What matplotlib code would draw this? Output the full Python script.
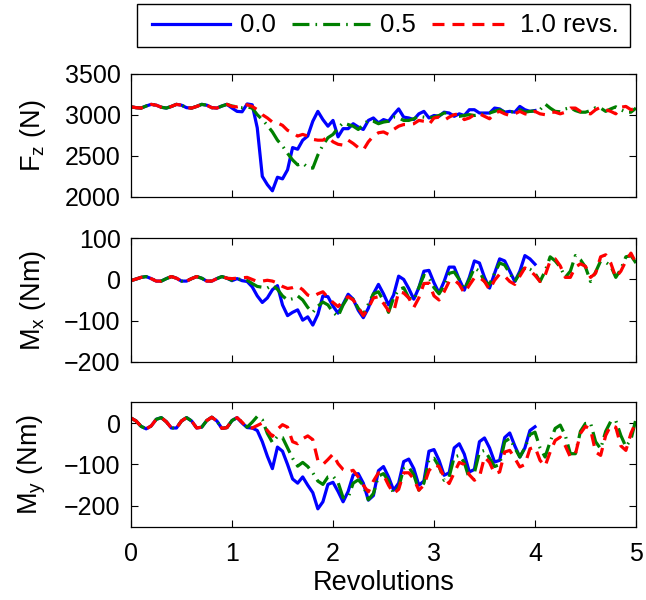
import numpy as np
import matplotlib
matplotlib.use('Agg')
import matplotlib.pyplot as plt
from matplotlib.patches import Rectangle

plt.rcParams['font.family'] = ['Liberation Sans', 'DejaVu Sans']
plt.rcParams['font.size'] = 18
plt.rcParams['mathtext.default'] = 'regular'
plt.rcParams['axes.linewidth'] = 0.9

# revolutions, sampled every 0.05
rev = np.round(np.arange(0, 5.001, 0.05), 2)
rev_blue = rev[rev <= 4.0]

labels = ['0.0', '0.5', '1.0 revs.']

# ---- F_z (N) ----
fz_start = [3095, 3085, 3080, 3105, 3125, 3115, 3090, 3080, 3100, 3125,
            3115, 3085, 3080, 3100, 3125, 3115, 3085, 3080, 3105, 3125]
fz_00 = [3080, 3040, 3035, 3130, 3120, 2840, 2250, 2150, 2075, 2240,
         2220, 2330, 2600, 2580, 2690, 2740, 2920, 3040, 2940, 2860,
         2930, 2730, 2830, 2830, 2890, 2850, 2820, 2930, 2960, 2900,
         2940, 2920, 3000, 3070, 2970, 2960, 2940, 3010, 3040, 2960,
         2990, 2980, 3030, 3020, 2980, 3010, 2990, 3060, 3060, 3020,
         3020, 3020, 3080, 3070, 3030, 3040, 3030, 3100, 3060, 3040,
         3050]
fz_05 = [3105, 3095, 3085, 3095, 3080, 3000, 2940, 2870, 2790, 2690,
         2620, 2530, 2450, 2390, 2410, 2360, 2350, 2510, 2630, 2720,
         2760, 2840, 2900, 2880, 2860, 2820, 2880, 2930, 2920, 2890,
         2910, 2920, 2970, 2960, 2930, 2930, 2950, 2980, 2970, 2960,
         2970, 2990, 3020, 3020, 2980, 2980, 2990, 3000, 2990, 3000,
         3010, 3020, 3040, 3060, 3030, 3030, 3040, 3060, 3030, 3040,
         3045, 3060, 3130, 3080, 3040, 3035, 3070, 3085, 3050, 3030,
         3030, 3050, 3085, 3080, 3040, 3070, 3095, 3060, 3030, 3030,
         3080]
fz_10 = [3100, 3095, 3110, 3120, 3100, 3060, 3000, 2960, 2910, 2900,
         2870, 2810, 2780, 2740, 2760, 2740, 2700, 2690, 2690, 2730,
         2670, 2640, 2630, 2690, 2650, 2600, 2570, 2670, 2740, 2780,
         2790, 2760, 2820, 2860, 2880, 2880, 2890, 2930, 2920, 2880,
         2960, 2970, 2930, 2970, 3000, 3010, 2940, 2960, 3000, 3010,
         2980, 2950, 3020, 3040, 3010, 2990, 3010, 3040, 3010, 3000,
         3040, 3010, 3000, 3030, 3030, 3010, 3030, 3080, 3080, 3040,
         3020, 3010, 3060, 3090, 3060, 3040, 3010, 3090, 3100, 3060,
         3080]

# ---- M_x (Nm) ----
mx_start = [-3, 1, 5, 7, 2, -4, -4, 2, 7, 3,
            -4, -4, 2, 7, 3, -4, -4, 2, 7, 3]
mx_00 = [-3, 2, -3, -5, -18, -40, -56, -45, -25, -15,
         -62, -88, -80, -74, -99, -91, -111, -85, -40, -42,
         -65, -82, -60, -36, -48, -75, -93, -70, -35, -12,
         -35, -62, -38, 8, 0, -22, -48, -20, 20, 22,
         -8, -33, -5, 30, 30, 0, -26, 5, 45, 40,
         5, -21, 15, 50, 45, 20, -5, 20, 58, 50,
         37]
mx_05 = [-2, 0, 1, -2, -10, -17, -19, -21, -14, -24,
         -40, -50, -47, -40, -50, -68, -80, -65, -55, -62,
         -80, -90, -62, -42, -48, -70, -86, -60, -35, -30,
         -52, -80, -45, -25, -20, -45, -50, -20, 10, 5,
         -20, -35, -15, 15, 18, 0, -24, 0, 28, 20,
         -5, -12, 15, 40, 35, 15, -5, 15, 30, 25,
         15, -5, 20, 55, 45, 30, 5, 20, 58, 48,
         30, -5, 18, 45, 42, 33, 5, 25, 55, 58,
         40]
mx_10 = [2, 3, 4, 5, 0, -5, -4, -2, -4, -9,
         -17, -22, -20, -16, -25, -38, -42, -35, -30, -44,
         -56, -66, -52, -42, -50, -68, -88, -70, -45, -42,
         -58, -76, -80, -30, -33, -45, -68, -45, -10, -9,
         -40, -50, -30, -5, -1, -12, -33, -14, 4, 5,
         -5, -25, -2, 13, 8, -5, -12, 8, 28, 22,
         10, -5, 10, 45, 50, 33, 5, 5, 30, 38,
         32, 5, 15, 55, 60, 40, 5, 20, 45, 64,
         40]

# ---- M_y (Nm) ----
my_start = [12, 5, -8, -14, -7, 9, 13, 3, -12, -12,
            5, 13, 5, -12, -10, 6, 14, 5, -13, -11]
my_00 = [6, 13, 0, -11, -12, -18, -45, -80, -110, -58,
         -68, -100, -135, -145, -130, -150, -168, -207, -190, -148,
         -143, -165, -190, -165, -125, -122, -145, -186, -175, -115,
         -105, -130, -162, -145, -93, -87, -110, -150, -140, -68,
         -64, -90, -126, -120, -60, -50, -75, -118, -112, -45,
         -36, -60, -94, -90, -35, -24, -55, -82, -60, -18,
         -9]
my_05 = [6, 13, 2, -10, 2, 16, 8, -25, -47, -32,
         -35, -60, -85, -104, -95, -105, -120, -140, -148, -130,
         -128, -143, -180, -180, -145, -137, -150, -185, -170, -128,
         -122, -140, -170, -155, -110, -106, -125, -162, -145, -88,
         -85, -105, -138, -130, -82, -78, -95, -135, -120, -70,
         -66, -85, -105, -100, -45, -37, -60, -82, -60, -28,
         -22, -60, -82, -45, -13, -5, -30, -74, -74, -20,
         -1, 0, -45, -62, -20, 4, 6, -30, -57, -40,
         10]
my_10 = [6, 13, 2, -12, -12, -6, 0, -18, -32, -15,
         -4, -10, -45, -50, -38, -31, -40, -90, -100, -88,
         -75, -98, -112, -118, -114, -130, -150, -166, -140, -120,
         -125, -150, -170, -160, -120, -120, -135, -162, -150, -115,
         -100, -105, -130, -146, -120, -95, -100, -125, -138, -130,
         -82, -95, -122, -118, -70, -66, -85, -106, -100, -62,
         -58, -90, -104, -70, -42, -34, -55, -82, -75, -25,
         -8, -15, -70, -78, -30, -6, -10, -55, -66, -25,
         3]

panels = [
    (fz_start, fz_00, fz_05, fz_10, 'F$_z$ (N)', (2000, 3500), [2000, 2500, 3000, 3500]),
    (mx_start, mx_00, mx_05, mx_10, 'M$_x$ (Nm)', (-200, 100), [-200, -100, 0, 100]),
    (my_start, my_00, my_05, my_10, 'M$_y$ (Nm)', (-250, 50), [-200, -100, 0]),
]

fig = plt.figure(figsize=(6.46, 6.0), dpi=100)
boxes = [[0.2028, 0.6717, 0.7817, 0.2058],
         [0.2028, 0.3972, 0.7817, 0.2056],
         [0.2028, 0.1222, 0.7817, 0.2073]]

lw = 2.3
for i, (start, s00, s05, s10, ylab, ylim, yticks) in enumerate(panels):
    ax = fig.add_axes(boxes[i])
    l1, = ax.plot(rev_blue, start + s00, color='#0000ff', lw=lw)
    l2, = ax.plot(rev, start + s05, color='#008000', lw=lw, dashes=(5.3, 1.9, 0.5, 1.9))
    l3, = ax.plot(rev, start + s10, color='#ff0000', lw=lw, dashes=(3.75, 2.5))
    ax.set_xlim(0, 5)
    ax.set_ylim(*ylim)
    ax.set_yticks(yticks)
    ax.set_xticks([0, 1, 2, 3, 4, 5])
    ax.tick_params(direction='in', top=True, right=True, length=5, width=0.8, labelsize=18)
    ax.tick_params(axis='y', pad=7.5)
    ax.tick_params(axis='x', pad=11)
    ax.set_ylabel(ylab, fontsize=19.5)
    ax.yaxis.set_label_coords(-0.165, 0.5)
    if i < 2:
        ax.set_xticklabels([])
    else:
        ax.set_xlabel('Revolutions', fontsize=19.5, labelpad=3)
    if i == 0:
        handles = [l1, l2, l3]

# legend box drawn separately so its padding matches
fig.patches.append(Rectangle((137 / 646, 1 - 47 / 600), 493 / 646, 43 / 600,
                             transform=fig.transFigure, fill=False,
                             edgecolor='black', lw=1.0))
fig.legend(handles, labels, loc='center', bbox_to_anchor=(0.5967, 0.9575),
           ncol=3, frameon=False, borderaxespad=0, borderpad=0,
           fontsize=18.5, handlelength=3.03, handletextpad=0.39, columnspacing=0.62)

fig.savefig('out.png', dpi=100)
